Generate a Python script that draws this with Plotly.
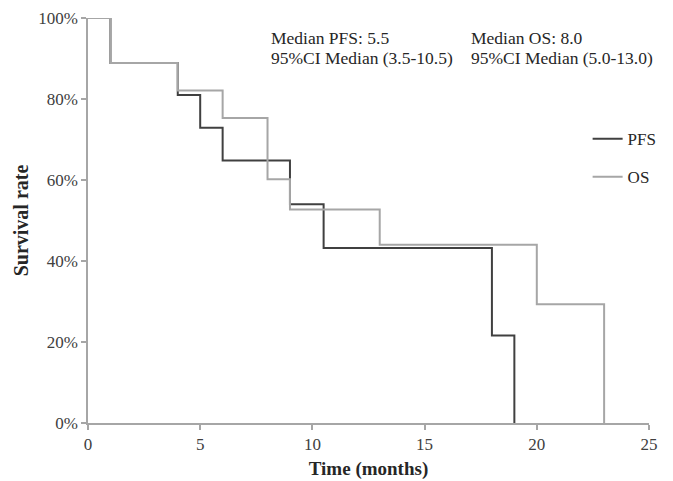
import plotly.graph_objects as go

# Kaplan-Meier step data (time in months, survival in %)
pfs_time = [0, 1, 4, 5, 6, 9, 10.5, 18, 19]
pfs_surv = [100, 88.9, 81.0, 72.9, 64.8, 54.0, 43.2, 21.6, 0]

os_time = [0, 1, 4, 6, 8, 9, 13, 20, 23]
os_surv = [100, 88.9, 82.1, 75.3, 60.2, 52.7, 44.0, 29.3, 0]

x_ticks = [0, 5, 10, 15, 20, 25]
y_ticks = [0, 20, 40, 60, 80, 100]
y_tick_labels = ["0%", "20%", "40%", "60%", "80%", "100%"]

median_pfs_text = ["Median PFS: 5.5", "95%CI Median (3.5-10.5)"]
median_os_text = ["Median OS: 8.0", "95%CI Median (5.0-13.0)"]

FONT = "Liberation Serif"
PFS_COLOR = "#404040"
OS_COLOR = "#a6a6a6"
AXIS_COLOR = "#a6a6a6"
TEXT_COLOR = "#262626"

fig = go.Figure()
fig.add_trace(go.Scatter(
    x=pfs_time, y=pfs_surv, mode="lines", name="PFS",
    line=dict(color=PFS_COLOR, width=2, shape="hv"),
    legend="legend",
))
fig.add_trace(go.Scatter(
    x=os_time, y=os_surv, mode="lines", name="OS",
    line=dict(color=OS_COLOR, width=2, shape="hv"),
    legend="legend2",
))

for i, txt in enumerate(median_pfs_text):
    fig.add_annotation(xref="paper", yref="paper", x=0.327, y=0.951 - i * 0.05,
                       text=txt, showarrow=False, xanchor="left", yanchor="middle",
                       xshift=-2, font=dict(family=FONT, size=17.5, color=TEXT_COLOR))
for i, txt in enumerate(median_os_text):
    fig.add_annotation(xref="paper", yref="paper", x=0.683, y=0.951 - i * 0.05,
                       text=txt, showarrow=False, xanchor="left", yanchor="middle",
                       xshift=-2, font=dict(family=FONT, size=17.5, color=TEXT_COLOR))

legend_common = dict(
    xref="paper", yref="paper", xanchor="left", yanchor="middle",
    bgcolor="rgba(0,0,0,0)", borderwidth=0,
    font=dict(family=FONT, size=17, color=TEXT_COLOR),
    itemwidth=30, tracegroupgap=0,
)

fig.update_layout(
    width=673, height=481,
    margin=dict(l=88, r=23, t=18, b=58),
    paper_bgcolor="white", plot_bgcolor="white",
    font=dict(family=FONT, size=17, color=TEXT_COLOR),
    showlegend=True,
    legend=dict(x=0.889, y=0.701, **legend_common),
    legend2=dict(x=0.889, y=0.607, **legend_common),
    xaxis=dict(
        range=[0, 25], tickvals=x_ticks, ticktext=[str(v) for v in x_ticks],
        showgrid=False, zeroline=False, showline=True, linecolor=AXIS_COLOR, linewidth=1.5,
        ticks="outside", ticklen=5, tickcolor=AXIS_COLOR, tickwidth=1.5,
        tickfont=dict(family=FONT, size=17, color="#404040"),
        automargin=False,
        title=dict(text="<b>Time (months)</b>", standoff=9,
                   font=dict(family=FONT, size=19, color=TEXT_COLOR)),
    ),
    yaxis=dict(
        range=[0, 100], tickvals=y_ticks, ticktext=y_tick_labels,
        showgrid=False, zeroline=False, showline=True, linecolor=AXIS_COLOR, linewidth=1.5,
        ticks="outside", ticklen=5, tickcolor=AXIS_COLOR, tickwidth=1.5,
        tickfont=dict(family=FONT, size=17, color="#404040"),
        automargin=False,
        title=dict(text="<b>Survival rate</b>", standoff=4,
                   font=dict(family=FONT, size=20, color=TEXT_COLOR)),
    ),
)

fig.write_html("out.html", config={"displayModeBar": False},
               post_script="document.body.style.margin='0';")
